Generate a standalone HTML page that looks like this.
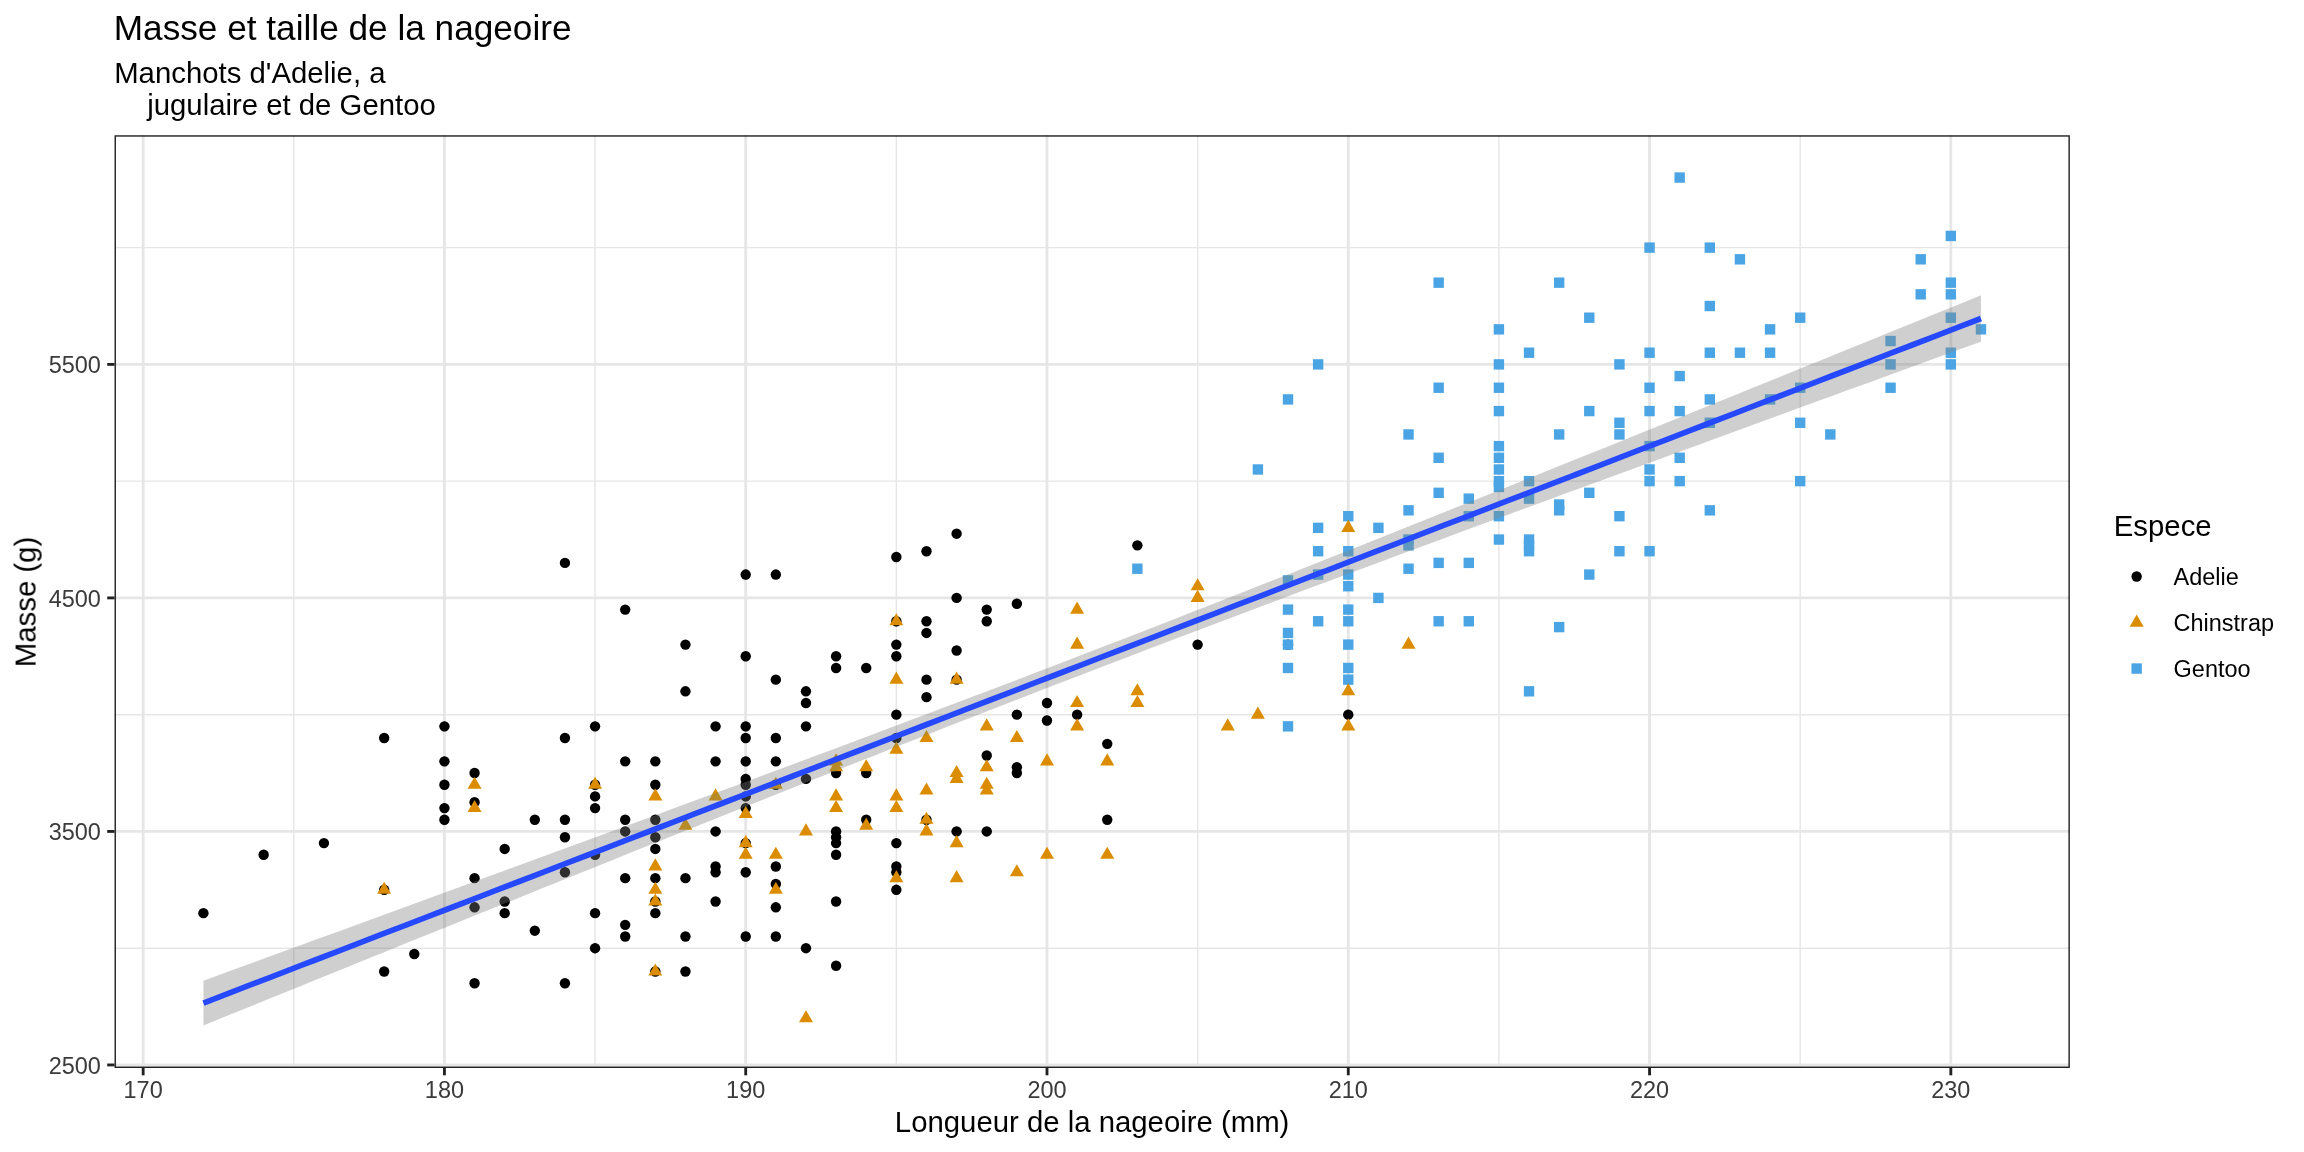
<!DOCTYPE html>
<html lang="fr"><head><meta charset="utf-8"><title>Masse et taille de la nageoire</title>
<style>html,body{margin:0;padding:0;background:#fff}body{width:2304px;height:1152px;overflow:hidden;font-family:"Liberation Sans",sans-serif}svg{display:block;will-change:transform}</style></head><body>
<svg width="2304" height="1152" viewBox="0 0 2304 1152">
<rect width="2304" height="1152" fill="#fff"/>
<defs><filter id="cs" x="0" y="0" width="2304" height="1152" filterUnits="userSpaceOnUse" color-interpolation-filters="linearRGB"><feColorMatrix type="matrix" values="0.93400 0.07680 -0.01079 0 0 -0.02344 1.04019 -0.01675 0 0 -0.00095 -0.03209 1.03304 0 0 0 0 0 1 0"/><feComponentTransfer><feFuncR type="table" tableValues="0.00000 0.00242 0.00358 0.00465 0.00570 0.00674 0.00779 0.00884 0.00990 0.01097 0.01204 0.01312 0.01421 0.01531 0.01642 0.01754 0.01866 0.01979 0.02094 0.02209 0.02324 0.02441 0.02558 0.02677 0.02796 0.02915 0.03036 0.03157 0.03279 0.03402 0.03525 0.03649 0.03774 0.03899 0.04026 0.04152 0.04280 0.04408 0.04537 0.04666 0.04796 0.04927 0.05058 0.05190 0.05322 0.05455 0.05589 0.05723 0.05858 0.05993 0.06129 0.06266 0.06403 0.06540 0.06678 0.06817 0.06956 0.07096 0.07236 0.07377 0.07518 0.07660 0.07802 0.07944 0.08088 0.08231 0.08376 0.08520 0.08665 0.08811 0.08957 0.09104 0.09251 0.09398 0.09546 0.09694 0.09843 0.09992 0.10142 0.10292 0.10443 0.10594 0.10745 0.10897 0.11049 0.11202 0.11355 0.11509 0.11663 0.11817 0.11972 0.12127 0.12282 0.12438 0.12595 0.12752 0.12909 0.13066 0.13224 0.13382 0.13541 0.13700 0.13860 0.14020 0.14180 0.14340 0.14501 0.14663 0.14824 0.14986 0.15149 0.15312 0.15475 0.15638 0.15802 0.15966 0.16131 0.16296 0.16461 0.16627 0.16793 0.16959 0.17126 0.17293 0.17460 0.17628 0.17796 0.17964 0.18133 0.18302 0.18471 0.18641 0.18810 0.18981 0.19151 0.19322 0.19494 0.19665 0.19837 0.20009 0.20182 0.20355 0.20528 0.20701 0.20875 0.21049 0.21224 0.21398 0.21573 0.21749 0.21924 0.22100 0.22276 0.22453 0.22630 0.22807 0.22984 0.23162 0.23340 0.23518 0.23697 0.23876 0.24055 0.24234 0.24414 0.24594 0.24774 0.24955 0.25136 0.25317 0.25498 0.25680 0.25862 0.26044 0.26227 0.26409 0.26593 0.26776 0.26959 0.27143 0.27328 0.27512 0.27697 0.27882 0.28067 0.28252 0.28438 0.28624 0.28811 0.28997 0.29184 0.29371 0.29558 0.29746 0.29934 0.30122 0.30310 0.30499 0.30688 0.30877 0.31067 0.31256 0.31446 0.31636 0.31827 0.32017 0.32208 0.32399 0.32591 0.32783 0.32974 0.33167 0.33359 0.33552 0.33745 0.33938 0.34131 0.34325 0.34519 0.34713 0.34907 0.35102 0.35296 0.35491 0.35687 0.35882 0.36078 0.36274 0.36470 0.36667 0.36863 0.37060 0.37258 0.37455 0.37653 0.37850 0.38048 0.38247 0.38445 0.38644 0.38843 0.39042 0.39242 0.39441 0.39641 0.39841 0.40042 0.40242 0.40443 0.40644 0.40845 0.41047 0.41249 0.41451 0.41653 0.41855 0.42058 0.42260 0.42463 0.42667 0.42870 0.43074 0.43277 0.43482 0.43686 0.43890 0.44095 0.44300 0.44505 0.44710 0.44916 0.45122 0.45328 0.45534 0.45740 0.45947 0.46154 0.46361 0.46568 0.46775 0.46983 0.47191 0.47399 0.47607 0.47816 0.48024 0.48233 0.48442 0.48652 0.48861 0.49071 0.49281 0.49491 0.49701 0.49912 0.50122 0.50333 0.50544 0.50756 0.50967 0.51179 0.51391 0.51603 0.51815 0.52027 0.52240 0.52453 0.52666 0.52879 0.53093 0.53306 0.53520 0.53734 0.53949 0.54163 0.54378 0.54592 0.54807 0.55022 0.55238 0.55453 0.55669 0.55885 0.56101 0.56318 0.56534 0.56751 0.56968 0.57185 0.57402 0.57619 0.57837 0.58055 0.58273 0.58491 0.58709 0.58928 0.59147 0.59366 0.59585 0.59804 0.60023 0.60243 0.60463 0.60683 0.60903 0.61124 0.61344 0.61565 0.61786 0.62007 0.62228 0.62450 0.62671 0.62893 0.63115 0.63337 0.63560 0.63782 0.64005 0.64228 0.64451 0.64674 0.64897 0.65121 0.65345 0.65569 0.65793 0.66017 0.66241 0.66466 0.66691 0.66916 0.67141 0.67366 0.67592 0.67817 0.68043 0.68269 0.68495 0.68722 0.68948 0.69175 0.69402 0.69629 0.69856 0.70083 0.70311 0.70539 0.70767 0.70995 0.71223 0.71451 0.71680 0.71908 0.72137 0.72366 0.72596 0.72825 0.73054 0.73284 0.73514 0.73744 0.73974 0.74205 0.74435 0.74666 0.74897 0.75128 0.75359 0.75590 0.75822 0.76053 0.76285 0.76517 0.76749 0.76982 0.77214 0.77447 0.77680 0.77913 0.78146 0.78379 0.78612 0.78846 0.79080 0.79314 0.79548 0.79782 0.80016 0.80251 0.80486 0.80720 0.80955 0.81191 0.81426 0.81661 0.81897 0.82133 0.82369 0.82605 0.82841 0.83078 0.83314 0.83551 0.83788 0.84025 0.84262 0.84499 0.84737 0.84974 0.85212 0.85450 0.85688 0.85927 0.86165 0.86404 0.86642 0.86881 0.87120 0.87359 0.87599 0.87838 0.88078 0.88318 0.88558 0.88798 0.89038 0.89278 0.89519 0.89759 0.90000 0.90241 0.90482 0.90724 0.90965 0.91207 0.91448 0.91690 0.91932 0.92174 0.92417 0.92659 0.92902 0.93144 0.93387 0.93630 0.93874 0.94117 0.94360 0.94604 0.94848 0.95092 0.95336 0.95580 0.95824 0.96069 0.96313 0.96558 0.96803 0.97048 0.97293 0.97539 0.97784 0.98030 0.98276 0.98522 0.98768 0.99014 0.99260 0.99507 0.99753 1.00000"/><feFuncG type="table" tableValues="0.00000 0.00242 0.00358 0.00465 0.00570 0.00674 0.00779 0.00884 0.00990 0.01097 0.01204 0.01312 0.01421 0.01531 0.01642 0.01754 0.01866 0.01979 0.02094 0.02209 0.02324 0.02441 0.02558 0.02677 0.02796 0.02915 0.03036 0.03157 0.03279 0.03402 0.03525 0.03649 0.03774 0.03899 0.04026 0.04152 0.04280 0.04408 0.04537 0.04666 0.04796 0.04927 0.05058 0.05190 0.05322 0.05455 0.05589 0.05723 0.05858 0.05993 0.06129 0.06266 0.06403 0.06540 0.06678 0.06817 0.06956 0.07096 0.07236 0.07377 0.07518 0.07660 0.07802 0.07944 0.08088 0.08231 0.08376 0.08520 0.08665 0.08811 0.08957 0.09104 0.09251 0.09398 0.09546 0.09694 0.09843 0.09992 0.10142 0.10292 0.10443 0.10594 0.10745 0.10897 0.11049 0.11202 0.11355 0.11509 0.11663 0.11817 0.11972 0.12127 0.12282 0.12438 0.12595 0.12752 0.12909 0.13066 0.13224 0.13382 0.13541 0.13700 0.13860 0.14020 0.14180 0.14340 0.14501 0.14663 0.14824 0.14986 0.15149 0.15312 0.15475 0.15638 0.15802 0.15966 0.16131 0.16296 0.16461 0.16627 0.16793 0.16959 0.17126 0.17293 0.17460 0.17628 0.17796 0.17964 0.18133 0.18302 0.18471 0.18641 0.18810 0.18981 0.19151 0.19322 0.19494 0.19665 0.19837 0.20009 0.20182 0.20355 0.20528 0.20701 0.20875 0.21049 0.21224 0.21398 0.21573 0.21749 0.21924 0.22100 0.22276 0.22453 0.22630 0.22807 0.22984 0.23162 0.23340 0.23518 0.23697 0.23876 0.24055 0.24234 0.24414 0.24594 0.24774 0.24955 0.25136 0.25317 0.25498 0.25680 0.25862 0.26044 0.26227 0.26409 0.26593 0.26776 0.26959 0.27143 0.27328 0.27512 0.27697 0.27882 0.28067 0.28252 0.28438 0.28624 0.28811 0.28997 0.29184 0.29371 0.29558 0.29746 0.29934 0.30122 0.30310 0.30499 0.30688 0.30877 0.31067 0.31256 0.31446 0.31636 0.31827 0.32017 0.32208 0.32399 0.32591 0.32783 0.32974 0.33167 0.33359 0.33552 0.33745 0.33938 0.34131 0.34325 0.34519 0.34713 0.34907 0.35102 0.35296 0.35491 0.35687 0.35882 0.36078 0.36274 0.36470 0.36667 0.36863 0.37060 0.37258 0.37455 0.37653 0.37850 0.38048 0.38247 0.38445 0.38644 0.38843 0.39042 0.39242 0.39441 0.39641 0.39841 0.40042 0.40242 0.40443 0.40644 0.40845 0.41047 0.41249 0.41451 0.41653 0.41855 0.42058 0.42260 0.42463 0.42667 0.42870 0.43074 0.43277 0.43482 0.43686 0.43890 0.44095 0.44300 0.44505 0.44710 0.44916 0.45122 0.45328 0.45534 0.45740 0.45947 0.46154 0.46361 0.46568 0.46775 0.46983 0.47191 0.47399 0.47607 0.47816 0.48024 0.48233 0.48442 0.48652 0.48861 0.49071 0.49281 0.49491 0.49701 0.49912 0.50122 0.50333 0.50544 0.50756 0.50967 0.51179 0.51391 0.51603 0.51815 0.52027 0.52240 0.52453 0.52666 0.52879 0.53093 0.53306 0.53520 0.53734 0.53949 0.54163 0.54378 0.54592 0.54807 0.55022 0.55238 0.55453 0.55669 0.55885 0.56101 0.56318 0.56534 0.56751 0.56968 0.57185 0.57402 0.57619 0.57837 0.58055 0.58273 0.58491 0.58709 0.58928 0.59147 0.59366 0.59585 0.59804 0.60023 0.60243 0.60463 0.60683 0.60903 0.61124 0.61344 0.61565 0.61786 0.62007 0.62228 0.62450 0.62671 0.62893 0.63115 0.63337 0.63560 0.63782 0.64005 0.64228 0.64451 0.64674 0.64897 0.65121 0.65345 0.65569 0.65793 0.66017 0.66241 0.66466 0.66691 0.66916 0.67141 0.67366 0.67592 0.67817 0.68043 0.68269 0.68495 0.68722 0.68948 0.69175 0.69402 0.69629 0.69856 0.70083 0.70311 0.70539 0.70767 0.70995 0.71223 0.71451 0.71680 0.71908 0.72137 0.72366 0.72596 0.72825 0.73054 0.73284 0.73514 0.73744 0.73974 0.74205 0.74435 0.74666 0.74897 0.75128 0.75359 0.75590 0.75822 0.76053 0.76285 0.76517 0.76749 0.76982 0.77214 0.77447 0.77680 0.77913 0.78146 0.78379 0.78612 0.78846 0.79080 0.79314 0.79548 0.79782 0.80016 0.80251 0.80486 0.80720 0.80955 0.81191 0.81426 0.81661 0.81897 0.82133 0.82369 0.82605 0.82841 0.83078 0.83314 0.83551 0.83788 0.84025 0.84262 0.84499 0.84737 0.84974 0.85212 0.85450 0.85688 0.85927 0.86165 0.86404 0.86642 0.86881 0.87120 0.87359 0.87599 0.87838 0.88078 0.88318 0.88558 0.88798 0.89038 0.89278 0.89519 0.89759 0.90000 0.90241 0.90482 0.90724 0.90965 0.91207 0.91448 0.91690 0.91932 0.92174 0.92417 0.92659 0.92902 0.93144 0.93387 0.93630 0.93874 0.94117 0.94360 0.94604 0.94848 0.95092 0.95336 0.95580 0.95824 0.96069 0.96313 0.96558 0.96803 0.97048 0.97293 0.97539 0.97784 0.98030 0.98276 0.98522 0.98768 0.99014 0.99260 0.99507 0.99753 1.00000"/><feFuncB type="table" tableValues="0.00000 0.00242 0.00358 0.00465 0.00570 0.00674 0.00779 0.00884 0.00990 0.01097 0.01204 0.01312 0.01421 0.01531 0.01642 0.01754 0.01866 0.01979 0.02094 0.02209 0.02324 0.02441 0.02558 0.02677 0.02796 0.02915 0.03036 0.03157 0.03279 0.03402 0.03525 0.03649 0.03774 0.03899 0.04026 0.04152 0.04280 0.04408 0.04537 0.04666 0.04796 0.04927 0.05058 0.05190 0.05322 0.05455 0.05589 0.05723 0.05858 0.05993 0.06129 0.06266 0.06403 0.06540 0.06678 0.06817 0.06956 0.07096 0.07236 0.07377 0.07518 0.07660 0.07802 0.07944 0.08088 0.08231 0.08376 0.08520 0.08665 0.08811 0.08957 0.09104 0.09251 0.09398 0.09546 0.09694 0.09843 0.09992 0.10142 0.10292 0.10443 0.10594 0.10745 0.10897 0.11049 0.11202 0.11355 0.11509 0.11663 0.11817 0.11972 0.12127 0.12282 0.12438 0.12595 0.12752 0.12909 0.13066 0.13224 0.13382 0.13541 0.13700 0.13860 0.14020 0.14180 0.14340 0.14501 0.14663 0.14824 0.14986 0.15149 0.15312 0.15475 0.15638 0.15802 0.15966 0.16131 0.16296 0.16461 0.16627 0.16793 0.16959 0.17126 0.17293 0.17460 0.17628 0.17796 0.17964 0.18133 0.18302 0.18471 0.18641 0.18810 0.18981 0.19151 0.19322 0.19494 0.19665 0.19837 0.20009 0.20182 0.20355 0.20528 0.20701 0.20875 0.21049 0.21224 0.21398 0.21573 0.21749 0.21924 0.22100 0.22276 0.22453 0.22630 0.22807 0.22984 0.23162 0.23340 0.23518 0.23697 0.23876 0.24055 0.24234 0.24414 0.24594 0.24774 0.24955 0.25136 0.25317 0.25498 0.25680 0.25862 0.26044 0.26227 0.26409 0.26593 0.26776 0.26959 0.27143 0.27328 0.27512 0.27697 0.27882 0.28067 0.28252 0.28438 0.28624 0.28811 0.28997 0.29184 0.29371 0.29558 0.29746 0.29934 0.30122 0.30310 0.30499 0.30688 0.30877 0.31067 0.31256 0.31446 0.31636 0.31827 0.32017 0.32208 0.32399 0.32591 0.32783 0.32974 0.33167 0.33359 0.33552 0.33745 0.33938 0.34131 0.34325 0.34519 0.34713 0.34907 0.35102 0.35296 0.35491 0.35687 0.35882 0.36078 0.36274 0.36470 0.36667 0.36863 0.37060 0.37258 0.37455 0.37653 0.37850 0.38048 0.38247 0.38445 0.38644 0.38843 0.39042 0.39242 0.39441 0.39641 0.39841 0.40042 0.40242 0.40443 0.40644 0.40845 0.41047 0.41249 0.41451 0.41653 0.41855 0.42058 0.42260 0.42463 0.42667 0.42870 0.43074 0.43277 0.43482 0.43686 0.43890 0.44095 0.44300 0.44505 0.44710 0.44916 0.45122 0.45328 0.45534 0.45740 0.45947 0.46154 0.46361 0.46568 0.46775 0.46983 0.47191 0.47399 0.47607 0.47816 0.48024 0.48233 0.48442 0.48652 0.48861 0.49071 0.49281 0.49491 0.49701 0.49912 0.50122 0.50333 0.50544 0.50756 0.50967 0.51179 0.51391 0.51603 0.51815 0.52027 0.52240 0.52453 0.52666 0.52879 0.53093 0.53306 0.53520 0.53734 0.53949 0.54163 0.54378 0.54592 0.54807 0.55022 0.55238 0.55453 0.55669 0.55885 0.56101 0.56318 0.56534 0.56751 0.56968 0.57185 0.57402 0.57619 0.57837 0.58055 0.58273 0.58491 0.58709 0.58928 0.59147 0.59366 0.59585 0.59804 0.60023 0.60243 0.60463 0.60683 0.60903 0.61124 0.61344 0.61565 0.61786 0.62007 0.62228 0.62450 0.62671 0.62893 0.63115 0.63337 0.63560 0.63782 0.64005 0.64228 0.64451 0.64674 0.64897 0.65121 0.65345 0.65569 0.65793 0.66017 0.66241 0.66466 0.66691 0.66916 0.67141 0.67366 0.67592 0.67817 0.68043 0.68269 0.68495 0.68722 0.68948 0.69175 0.69402 0.69629 0.69856 0.70083 0.70311 0.70539 0.70767 0.70995 0.71223 0.71451 0.71680 0.71908 0.72137 0.72366 0.72596 0.72825 0.73054 0.73284 0.73514 0.73744 0.73974 0.74205 0.74435 0.74666 0.74897 0.75128 0.75359 0.75590 0.75822 0.76053 0.76285 0.76517 0.76749 0.76982 0.77214 0.77447 0.77680 0.77913 0.78146 0.78379 0.78612 0.78846 0.79080 0.79314 0.79548 0.79782 0.80016 0.80251 0.80486 0.80720 0.80955 0.81191 0.81426 0.81661 0.81897 0.82133 0.82369 0.82605 0.82841 0.83078 0.83314 0.83551 0.83788 0.84025 0.84262 0.84499 0.84737 0.84974 0.85212 0.85450 0.85688 0.85927 0.86165 0.86404 0.86642 0.86881 0.87120 0.87359 0.87599 0.87838 0.88078 0.88318 0.88558 0.88798 0.89038 0.89278 0.89519 0.89759 0.90000 0.90241 0.90482 0.90724 0.90965 0.91207 0.91448 0.91690 0.91932 0.92174 0.92417 0.92659 0.92902 0.93144 0.93387 0.93630 0.93874 0.94117 0.94360 0.94604 0.94848 0.95092 0.95336 0.95580 0.95824 0.96069 0.96313 0.96558 0.96803 0.97048 0.97293 0.97539 0.97784 0.98030 0.98276 0.98522 0.98768 0.99014 0.99260 0.99507 0.99753 1.00000"/></feComponentTransfer></filter></defs>
<g filter="url(#cs)">
<defs><clipPath id="pc"><rect x="114.53" y="135.25" width="1955.32" height="932.75"/></clipPath></defs>
<g clip-path="url(#pc)">
<line x1="293.79" x2="293.79" y1="135.25" y2="1068.0" stroke="#EBEBEB" stroke-width="1.42"/>
<line x1="595.07" x2="595.07" y1="135.25" y2="1068.0" stroke="#EBEBEB" stroke-width="1.42"/>
<line x1="896.35" x2="896.35" y1="135.25" y2="1068.0" stroke="#EBEBEB" stroke-width="1.42"/>
<line x1="1197.63" x2="1197.63" y1="135.25" y2="1068.0" stroke="#EBEBEB" stroke-width="1.42"/>
<line x1="1498.91" x2="1498.91" y1="135.25" y2="1068.0" stroke="#EBEBEB" stroke-width="1.42"/>
<line x1="1800.19" x2="1800.19" y1="135.25" y2="1068.0" stroke="#EBEBEB" stroke-width="1.42"/>
<line y1="948.19" y2="948.19" x1="114.53" x2="2069.85" stroke="#EBEBEB" stroke-width="1.42"/>
<line y1="714.67" y2="714.67" x1="114.53" x2="2069.85" stroke="#EBEBEB" stroke-width="1.42"/>
<line y1="481.15" y2="481.15" x1="114.53" x2="2069.85" stroke="#EBEBEB" stroke-width="1.42"/>
<line y1="247.63" y2="247.63" x1="114.53" x2="2069.85" stroke="#EBEBEB" stroke-width="1.42"/>
<line x1="143.15" x2="143.15" y1="135.25" y2="1068.0" stroke="#EBEBEB" stroke-width="2.85"/>
<line x1="444.43" x2="444.43" y1="135.25" y2="1068.0" stroke="#EBEBEB" stroke-width="2.85"/>
<line x1="745.71" x2="745.71" y1="135.25" y2="1068.0" stroke="#EBEBEB" stroke-width="2.85"/>
<line x1="1046.99" x2="1046.99" y1="135.25" y2="1068.0" stroke="#EBEBEB" stroke-width="2.85"/>
<line x1="1348.27" x2="1348.27" y1="135.25" y2="1068.0" stroke="#EBEBEB" stroke-width="2.85"/>
<line x1="1649.55" x2="1649.55" y1="135.25" y2="1068.0" stroke="#EBEBEB" stroke-width="2.85"/>
<line x1="1950.83" x2="1950.83" y1="135.25" y2="1068.0" stroke="#EBEBEB" stroke-width="2.85"/>
<line y1="1064.95" y2="1064.95" x1="114.53" x2="2069.85" stroke="#EBEBEB" stroke-width="2.85"/>
<line y1="831.43" y2="831.43" x1="114.53" x2="2069.85" stroke="#EBEBEB" stroke-width="2.85"/>
<line y1="597.91" y2="597.91" x1="114.53" x2="2069.85" stroke="#EBEBEB" stroke-width="2.85"/>
<line y1="364.39" y2="364.39" x1="114.53" x2="2069.85" stroke="#EBEBEB" stroke-width="2.85"/>
<g>
<circle cx="203.41" cy="913.16" r="5.2" fill="#000000"/>
<circle cx="263.66" cy="854.78" r="5.2" fill="#000000"/>
<circle cx="323.92" cy="843.11" r="5.2" fill="#000000"/>
<circle cx="384.17" cy="889.81" r="5.2" fill="#000000"/>
<circle cx="384.17" cy="971.54" r="5.2" fill="#000000"/>
<circle cx="384.17" cy="738.02" r="5.2" fill="#000000"/>
<circle cx="414.30" cy="954.03" r="5.2" fill="#000000"/>
<circle cx="444.43" cy="726.35" r="5.2" fill="#000000"/>
<circle cx="444.43" cy="761.37" r="5.2" fill="#000000"/>
<circle cx="444.43" cy="784.73" r="5.2" fill="#000000"/>
<circle cx="444.43" cy="808.08" r="5.2" fill="#000000"/>
<circle cx="444.43" cy="819.75" r="5.2" fill="#000000"/>
<circle cx="474.56" cy="773.05" r="5.2" fill="#000000"/>
<circle cx="474.56" cy="802.24" r="5.2" fill="#000000"/>
<circle cx="474.56" cy="878.13" r="5.2" fill="#000000"/>
<circle cx="474.56" cy="907.32" r="5.2" fill="#000000"/>
<circle cx="474.56" cy="983.22" r="5.2" fill="#000000"/>
<circle cx="504.69" cy="848.94" r="5.2" fill="#000000"/>
<circle cx="504.69" cy="901.49" r="5.2" fill="#000000"/>
<circle cx="504.69" cy="913.16" r="5.2" fill="#000000"/>
<circle cx="534.81" cy="819.75" r="5.2" fill="#000000"/>
<circle cx="534.81" cy="930.68" r="5.2" fill="#000000"/>
<circle cx="564.94" cy="562.88" r="5.2" fill="#000000"/>
<circle cx="564.94" cy="738.02" r="5.2" fill="#000000"/>
<circle cx="564.94" cy="819.75" r="5.2" fill="#000000"/>
<circle cx="564.94" cy="837.27" r="5.2" fill="#000000"/>
<circle cx="564.94" cy="872.30" r="5.2" fill="#000000"/>
<circle cx="564.94" cy="983.22" r="5.2" fill="#000000"/>
<circle cx="595.07" cy="726.35" r="5.2" fill="#000000"/>
<circle cx="595.07" cy="784.73" r="5.2" fill="#000000"/>
<circle cx="595.07" cy="796.40" r="5.2" fill="#000000"/>
<circle cx="595.07" cy="808.08" r="5.2" fill="#000000"/>
<circle cx="595.07" cy="854.78" r="5.2" fill="#000000"/>
<circle cx="595.07" cy="913.16" r="5.2" fill="#000000"/>
<circle cx="595.07" cy="948.19" r="5.2" fill="#000000"/>
<circle cx="625.20" cy="609.59" r="5.2" fill="#000000"/>
<circle cx="625.20" cy="761.37" r="5.2" fill="#000000"/>
<circle cx="625.20" cy="819.75" r="5.2" fill="#000000"/>
<circle cx="625.20" cy="831.43" r="5.2" fill="#000000"/>
<circle cx="625.20" cy="878.13" r="5.2" fill="#000000"/>
<circle cx="625.20" cy="924.84" r="5.2" fill="#000000"/>
<circle cx="625.20" cy="936.51" r="5.2" fill="#000000"/>
<circle cx="655.33" cy="761.37" r="5.2" fill="#000000"/>
<circle cx="655.33" cy="784.73" r="5.2" fill="#000000"/>
<circle cx="655.33" cy="819.75" r="5.2" fill="#000000"/>
<circle cx="655.33" cy="837.27" r="5.2" fill="#000000"/>
<circle cx="655.33" cy="848.94" r="5.2" fill="#000000"/>
<circle cx="655.33" cy="878.13" r="5.2" fill="#000000"/>
<circle cx="655.33" cy="901.49" r="5.2" fill="#000000"/>
<circle cx="655.33" cy="913.16" r="5.2" fill="#000000"/>
<circle cx="655.33" cy="971.54" r="5.2" fill="#000000"/>
<circle cx="685.45" cy="644.61" r="5.2" fill="#000000"/>
<circle cx="685.45" cy="691.32" r="5.2" fill="#000000"/>
<circle cx="685.45" cy="878.13" r="5.2" fill="#000000"/>
<circle cx="685.45" cy="936.51" r="5.2" fill="#000000"/>
<circle cx="685.45" cy="971.54" r="5.2" fill="#000000"/>
<circle cx="715.58" cy="726.35" r="5.2" fill="#000000"/>
<circle cx="715.58" cy="761.37" r="5.2" fill="#000000"/>
<circle cx="715.58" cy="831.43" r="5.2" fill="#000000"/>
<circle cx="715.58" cy="866.46" r="5.2" fill="#000000"/>
<circle cx="715.58" cy="872.30" r="5.2" fill="#000000"/>
<circle cx="715.58" cy="901.49" r="5.2" fill="#000000"/>
<circle cx="745.71" cy="574.56" r="5.2" fill="#000000"/>
<circle cx="745.71" cy="656.29" r="5.2" fill="#000000"/>
<circle cx="745.71" cy="726.35" r="5.2" fill="#000000"/>
<circle cx="745.71" cy="738.02" r="5.2" fill="#000000"/>
<circle cx="745.71" cy="761.37" r="5.2" fill="#000000"/>
<circle cx="745.71" cy="778.89" r="5.2" fill="#000000"/>
<circle cx="745.71" cy="784.73" r="5.2" fill="#000000"/>
<circle cx="745.71" cy="796.40" r="5.2" fill="#000000"/>
<circle cx="745.71" cy="808.08" r="5.2" fill="#000000"/>
<circle cx="745.71" cy="843.11" r="5.2" fill="#000000"/>
<circle cx="745.71" cy="872.30" r="5.2" fill="#000000"/>
<circle cx="745.71" cy="936.51" r="5.2" fill="#000000"/>
<circle cx="775.84" cy="574.56" r="5.2" fill="#000000"/>
<circle cx="775.84" cy="679.64" r="5.2" fill="#000000"/>
<circle cx="775.84" cy="738.02" r="5.2" fill="#000000"/>
<circle cx="775.84" cy="761.37" r="5.2" fill="#000000"/>
<circle cx="775.84" cy="784.73" r="5.2" fill="#000000"/>
<circle cx="775.84" cy="866.46" r="5.2" fill="#000000"/>
<circle cx="775.84" cy="883.97" r="5.2" fill="#000000"/>
<circle cx="775.84" cy="907.32" r="5.2" fill="#000000"/>
<circle cx="775.84" cy="936.51" r="5.2" fill="#000000"/>
<circle cx="805.97" cy="691.32" r="5.2" fill="#000000"/>
<circle cx="805.97" cy="702.99" r="5.2" fill="#000000"/>
<circle cx="805.97" cy="726.35" r="5.2" fill="#000000"/>
<circle cx="805.97" cy="778.89" r="5.2" fill="#000000"/>
<circle cx="805.97" cy="948.19" r="5.2" fill="#000000"/>
<circle cx="836.09" cy="656.29" r="5.2" fill="#000000"/>
<circle cx="836.09" cy="667.97" r="5.2" fill="#000000"/>
<circle cx="836.09" cy="773.05" r="5.2" fill="#000000"/>
<circle cx="836.09" cy="831.43" r="5.2" fill="#000000"/>
<circle cx="836.09" cy="837.27" r="5.2" fill="#000000"/>
<circle cx="836.09" cy="843.11" r="5.2" fill="#000000"/>
<circle cx="836.09" cy="854.78" r="5.2" fill="#000000"/>
<circle cx="836.09" cy="901.49" r="5.2" fill="#000000"/>
<circle cx="836.09" cy="965.70" r="5.2" fill="#000000"/>
<circle cx="866.22" cy="667.97" r="5.2" fill="#000000"/>
<circle cx="866.22" cy="773.05" r="5.2" fill="#000000"/>
<circle cx="866.22" cy="819.75" r="5.2" fill="#000000"/>
<circle cx="896.35" cy="557.04" r="5.2" fill="#000000"/>
<circle cx="896.35" cy="621.26" r="5.2" fill="#000000"/>
<circle cx="896.35" cy="644.61" r="5.2" fill="#000000"/>
<circle cx="896.35" cy="656.29" r="5.2" fill="#000000"/>
<circle cx="896.35" cy="714.67" r="5.2" fill="#000000"/>
<circle cx="896.35" cy="738.02" r="5.2" fill="#000000"/>
<circle cx="896.35" cy="843.11" r="5.2" fill="#000000"/>
<circle cx="896.35" cy="866.46" r="5.2" fill="#000000"/>
<circle cx="896.35" cy="872.30" r="5.2" fill="#000000"/>
<circle cx="896.35" cy="889.81" r="5.2" fill="#000000"/>
<circle cx="926.48" cy="551.21" r="5.2" fill="#000000"/>
<circle cx="926.48" cy="621.26" r="5.2" fill="#000000"/>
<circle cx="926.48" cy="632.94" r="5.2" fill="#000000"/>
<circle cx="926.48" cy="679.64" r="5.2" fill="#000000"/>
<circle cx="926.48" cy="697.16" r="5.2" fill="#000000"/>
<circle cx="926.48" cy="819.75" r="5.2" fill="#000000"/>
<circle cx="956.61" cy="533.69" r="5.2" fill="#000000"/>
<circle cx="956.61" cy="597.91" r="5.2" fill="#000000"/>
<circle cx="956.61" cy="650.45" r="5.2" fill="#000000"/>
<circle cx="956.61" cy="679.64" r="5.2" fill="#000000"/>
<circle cx="956.61" cy="831.43" r="5.2" fill="#000000"/>
<circle cx="986.73" cy="609.59" r="5.2" fill="#000000"/>
<circle cx="986.73" cy="621.26" r="5.2" fill="#000000"/>
<circle cx="986.73" cy="755.54" r="5.2" fill="#000000"/>
<circle cx="986.73" cy="831.43" r="5.2" fill="#000000"/>
<circle cx="1016.86" cy="603.75" r="5.2" fill="#000000"/>
<circle cx="1016.86" cy="714.67" r="5.2" fill="#000000"/>
<circle cx="1016.86" cy="767.21" r="5.2" fill="#000000"/>
<circle cx="1016.86" cy="773.05" r="5.2" fill="#000000"/>
<circle cx="1046.99" cy="702.99" r="5.2" fill="#000000"/>
<circle cx="1046.99" cy="720.51" r="5.2" fill="#000000"/>
<circle cx="1077.12" cy="714.67" r="5.2" fill="#000000"/>
<circle cx="1107.25" cy="743.86" r="5.2" fill="#000000"/>
<circle cx="1107.25" cy="819.75" r="5.2" fill="#000000"/>
<circle cx="1137.37" cy="545.37" r="5.2" fill="#000000"/>
<circle cx="1197.63" cy="644.61" r="5.2" fill="#000000"/>
<circle cx="1288.01" cy="644.61" r="5.2" fill="#000000"/>
<circle cx="1348.27" cy="714.67" r="5.2" fill="#000000"/>
<rect x="1132.17" y="563.52" width="10.4" height="10.4" fill="#56B4E9"/>
<rect x="1252.69" y="464.27" width="10.4" height="10.4" fill="#56B4E9"/>
<rect x="1282.81" y="394.22" width="10.4" height="10.4" fill="#56B4E9"/>
<rect x="1282.81" y="575.20" width="10.4" height="10.4" fill="#56B4E9"/>
<rect x="1282.81" y="604.39" width="10.4" height="10.4" fill="#56B4E9"/>
<rect x="1282.81" y="627.74" width="10.4" height="10.4" fill="#56B4E9"/>
<rect x="1282.81" y="639.41" width="10.4" height="10.4" fill="#56B4E9"/>
<rect x="1282.81" y="662.77" width="10.4" height="10.4" fill="#56B4E9"/>
<rect x="1282.81" y="721.15" width="10.4" height="10.4" fill="#56B4E9"/>
<rect x="1312.94" y="359.19" width="10.4" height="10.4" fill="#56B4E9"/>
<rect x="1312.94" y="522.65" width="10.4" height="10.4" fill="#56B4E9"/>
<rect x="1312.94" y="546.01" width="10.4" height="10.4" fill="#56B4E9"/>
<rect x="1312.94" y="569.36" width="10.4" height="10.4" fill="#56B4E9"/>
<rect x="1312.94" y="616.06" width="10.4" height="10.4" fill="#56B4E9"/>
<rect x="1343.07" y="510.98" width="10.4" height="10.4" fill="#56B4E9"/>
<rect x="1343.07" y="546.01" width="10.4" height="10.4" fill="#56B4E9"/>
<rect x="1343.07" y="569.36" width="10.4" height="10.4" fill="#56B4E9"/>
<rect x="1343.07" y="581.03" width="10.4" height="10.4" fill="#56B4E9"/>
<rect x="1343.07" y="604.39" width="10.4" height="10.4" fill="#56B4E9"/>
<rect x="1343.07" y="616.06" width="10.4" height="10.4" fill="#56B4E9"/>
<rect x="1343.07" y="639.41" width="10.4" height="10.4" fill="#56B4E9"/>
<rect x="1343.07" y="662.77" width="10.4" height="10.4" fill="#56B4E9"/>
<rect x="1343.07" y="674.44" width="10.4" height="10.4" fill="#56B4E9"/>
<rect x="1373.20" y="522.65" width="10.4" height="10.4" fill="#56B4E9"/>
<rect x="1373.20" y="592.71" width="10.4" height="10.4" fill="#56B4E9"/>
<rect x="1403.33" y="429.25" width="10.4" height="10.4" fill="#56B4E9"/>
<rect x="1403.33" y="505.14" width="10.4" height="10.4" fill="#56B4E9"/>
<rect x="1403.33" y="534.33" width="10.4" height="10.4" fill="#56B4E9"/>
<rect x="1403.33" y="540.17" width="10.4" height="10.4" fill="#56B4E9"/>
<rect x="1403.33" y="563.52" width="10.4" height="10.4" fill="#56B4E9"/>
<rect x="1433.45" y="277.46" width="10.4" height="10.4" fill="#56B4E9"/>
<rect x="1433.45" y="382.54" width="10.4" height="10.4" fill="#56B4E9"/>
<rect x="1433.45" y="452.60" width="10.4" height="10.4" fill="#56B4E9"/>
<rect x="1433.45" y="487.63" width="10.4" height="10.4" fill="#56B4E9"/>
<rect x="1433.45" y="557.68" width="10.4" height="10.4" fill="#56B4E9"/>
<rect x="1433.45" y="616.06" width="10.4" height="10.4" fill="#56B4E9"/>
<rect x="1463.58" y="493.46" width="10.4" height="10.4" fill="#56B4E9"/>
<rect x="1463.58" y="510.98" width="10.4" height="10.4" fill="#56B4E9"/>
<rect x="1463.58" y="557.68" width="10.4" height="10.4" fill="#56B4E9"/>
<rect x="1463.58" y="616.06" width="10.4" height="10.4" fill="#56B4E9"/>
<rect x="1493.71" y="324.16" width="10.4" height="10.4" fill="#56B4E9"/>
<rect x="1493.71" y="359.19" width="10.4" height="10.4" fill="#56B4E9"/>
<rect x="1493.71" y="382.54" width="10.4" height="10.4" fill="#56B4E9"/>
<rect x="1493.71" y="405.89" width="10.4" height="10.4" fill="#56B4E9"/>
<rect x="1493.71" y="440.92" width="10.4" height="10.4" fill="#56B4E9"/>
<rect x="1493.71" y="452.60" width="10.4" height="10.4" fill="#56B4E9"/>
<rect x="1493.71" y="464.27" width="10.4" height="10.4" fill="#56B4E9"/>
<rect x="1493.71" y="475.95" width="10.4" height="10.4" fill="#56B4E9"/>
<rect x="1493.71" y="481.79" width="10.4" height="10.4" fill="#56B4E9"/>
<rect x="1493.71" y="510.98" width="10.4" height="10.4" fill="#56B4E9"/>
<rect x="1493.71" y="534.33" width="10.4" height="10.4" fill="#56B4E9"/>
<rect x="1523.84" y="347.51" width="10.4" height="10.4" fill="#56B4E9"/>
<rect x="1523.84" y="475.95" width="10.4" height="10.4" fill="#56B4E9"/>
<rect x="1523.84" y="493.46" width="10.4" height="10.4" fill="#56B4E9"/>
<rect x="1523.84" y="534.33" width="10.4" height="10.4" fill="#56B4E9"/>
<rect x="1523.84" y="540.17" width="10.4" height="10.4" fill="#56B4E9"/>
<rect x="1523.84" y="546.01" width="10.4" height="10.4" fill="#56B4E9"/>
<rect x="1523.84" y="686.12" width="10.4" height="10.4" fill="#56B4E9"/>
<rect x="1553.97" y="277.46" width="10.4" height="10.4" fill="#56B4E9"/>
<rect x="1553.97" y="429.25" width="10.4" height="10.4" fill="#56B4E9"/>
<rect x="1553.97" y="499.30" width="10.4" height="10.4" fill="#56B4E9"/>
<rect x="1553.97" y="505.14" width="10.4" height="10.4" fill="#56B4E9"/>
<rect x="1553.97" y="621.90" width="10.4" height="10.4" fill="#56B4E9"/>
<rect x="1584.09" y="312.49" width="10.4" height="10.4" fill="#56B4E9"/>
<rect x="1584.09" y="405.89" width="10.4" height="10.4" fill="#56B4E9"/>
<rect x="1584.09" y="487.63" width="10.4" height="10.4" fill="#56B4E9"/>
<rect x="1584.09" y="569.36" width="10.4" height="10.4" fill="#56B4E9"/>
<rect x="1614.22" y="359.19" width="10.4" height="10.4" fill="#56B4E9"/>
<rect x="1614.22" y="417.57" width="10.4" height="10.4" fill="#56B4E9"/>
<rect x="1614.22" y="429.25" width="10.4" height="10.4" fill="#56B4E9"/>
<rect x="1614.22" y="510.98" width="10.4" height="10.4" fill="#56B4E9"/>
<rect x="1614.22" y="546.01" width="10.4" height="10.4" fill="#56B4E9"/>
<rect x="1644.35" y="242.43" width="10.4" height="10.4" fill="#56B4E9"/>
<rect x="1644.35" y="347.51" width="10.4" height="10.4" fill="#56B4E9"/>
<rect x="1644.35" y="382.54" width="10.4" height="10.4" fill="#56B4E9"/>
<rect x="1644.35" y="405.89" width="10.4" height="10.4" fill="#56B4E9"/>
<rect x="1644.35" y="440.92" width="10.4" height="10.4" fill="#56B4E9"/>
<rect x="1644.35" y="464.27" width="10.4" height="10.4" fill="#56B4E9"/>
<rect x="1644.35" y="475.95" width="10.4" height="10.4" fill="#56B4E9"/>
<rect x="1644.35" y="546.01" width="10.4" height="10.4" fill="#56B4E9"/>
<rect x="1674.48" y="172.37" width="10.4" height="10.4" fill="#56B4E9"/>
<rect x="1674.48" y="370.87" width="10.4" height="10.4" fill="#56B4E9"/>
<rect x="1674.48" y="405.89" width="10.4" height="10.4" fill="#56B4E9"/>
<rect x="1674.48" y="452.60" width="10.4" height="10.4" fill="#56B4E9"/>
<rect x="1674.48" y="475.95" width="10.4" height="10.4" fill="#56B4E9"/>
<rect x="1704.61" y="242.43" width="10.4" height="10.4" fill="#56B4E9"/>
<rect x="1704.61" y="300.81" width="10.4" height="10.4" fill="#56B4E9"/>
<rect x="1704.61" y="347.51" width="10.4" height="10.4" fill="#56B4E9"/>
<rect x="1704.61" y="394.22" width="10.4" height="10.4" fill="#56B4E9"/>
<rect x="1704.61" y="417.57" width="10.4" height="10.4" fill="#56B4E9"/>
<rect x="1704.61" y="505.14" width="10.4" height="10.4" fill="#56B4E9"/>
<rect x="1734.73" y="254.11" width="10.4" height="10.4" fill="#56B4E9"/>
<rect x="1734.73" y="347.51" width="10.4" height="10.4" fill="#56B4E9"/>
<rect x="1764.86" y="324.16" width="10.4" height="10.4" fill="#56B4E9"/>
<rect x="1764.86" y="347.51" width="10.4" height="10.4" fill="#56B4E9"/>
<rect x="1764.86" y="394.22" width="10.4" height="10.4" fill="#56B4E9"/>
<rect x="1794.99" y="312.49" width="10.4" height="10.4" fill="#56B4E9"/>
<rect x="1794.99" y="382.54" width="10.4" height="10.4" fill="#56B4E9"/>
<rect x="1794.99" y="417.57" width="10.4" height="10.4" fill="#56B4E9"/>
<rect x="1794.99" y="475.95" width="10.4" height="10.4" fill="#56B4E9"/>
<rect x="1825.12" y="429.25" width="10.4" height="10.4" fill="#56B4E9"/>
<rect x="1885.37" y="335.84" width="10.4" height="10.4" fill="#56B4E9"/>
<rect x="1885.37" y="359.19" width="10.4" height="10.4" fill="#56B4E9"/>
<rect x="1885.37" y="382.54" width="10.4" height="10.4" fill="#56B4E9"/>
<rect x="1915.50" y="254.11" width="10.4" height="10.4" fill="#56B4E9"/>
<rect x="1915.50" y="289.13" width="10.4" height="10.4" fill="#56B4E9"/>
<rect x="1945.63" y="230.75" width="10.4" height="10.4" fill="#56B4E9"/>
<rect x="1945.63" y="277.46" width="10.4" height="10.4" fill="#56B4E9"/>
<rect x="1945.63" y="289.13" width="10.4" height="10.4" fill="#56B4E9"/>
<rect x="1945.63" y="312.49" width="10.4" height="10.4" fill="#56B4E9"/>
<rect x="1945.63" y="347.51" width="10.4" height="10.4" fill="#56B4E9"/>
<rect x="1945.63" y="359.19" width="10.4" height="10.4" fill="#56B4E9"/>
<rect x="1975.76" y="324.16" width="10.4" height="10.4" fill="#56B4E9"/>
<path d="M384.17 881.72L391.18 893.85L377.17 893.85Z" fill="#E69F00"/>
<path d="M474.56 776.64L481.56 788.77L467.55 788.77Z" fill="#E69F00"/>
<path d="M474.56 799.99L481.56 812.12L467.55 812.12Z" fill="#E69F00"/>
<path d="M595.07 776.64L602.07 788.77L588.07 788.77Z" fill="#E69F00"/>
<path d="M655.33 788.32L662.33 800.45L648.32 800.45Z" fill="#E69F00"/>
<path d="M655.33 858.37L662.33 870.50L648.32 870.50Z" fill="#E69F00"/>
<path d="M655.33 881.72L662.33 893.85L648.32 893.85Z" fill="#E69F00"/>
<path d="M655.33 893.40L662.33 905.53L648.32 905.53Z" fill="#E69F00"/>
<path d="M655.33 963.46L662.33 975.59L648.32 975.59Z" fill="#E69F00"/>
<path d="M685.45 817.51L692.46 829.64L678.45 829.64Z" fill="#E69F00"/>
<path d="M715.58 788.32L722.59 800.45L708.58 800.45Z" fill="#E69F00"/>
<path d="M745.71 805.83L752.71 817.96L738.71 817.96Z" fill="#E69F00"/>
<path d="M745.71 835.02L752.71 847.15L738.71 847.15Z" fill="#E69F00"/>
<path d="M745.71 846.70L752.71 858.83L738.71 858.83Z" fill="#E69F00"/>
<path d="M775.84 776.64L782.84 788.77L768.83 788.77Z" fill="#E69F00"/>
<path d="M775.84 846.70L782.84 858.83L768.83 858.83Z" fill="#E69F00"/>
<path d="M775.84 881.72L782.84 893.85L768.83 893.85Z" fill="#E69F00"/>
<path d="M805.97 823.34L812.97 835.47L798.96 835.47Z" fill="#E69F00"/>
<path d="M805.97 1010.16L812.97 1022.29L798.96 1022.29Z" fill="#E69F00"/>
<path d="M836.09 753.29L843.10 765.42L829.09 765.42Z" fill="#E69F00"/>
<path d="M836.09 759.13L843.10 771.26L829.09 771.26Z" fill="#E69F00"/>
<path d="M836.09 788.32L843.10 800.45L829.09 800.45Z" fill="#E69F00"/>
<path d="M836.09 799.99L843.10 812.12L829.09 812.12Z" fill="#E69F00"/>
<path d="M866.22 759.13L873.23 771.26L859.22 771.26Z" fill="#E69F00"/>
<path d="M866.22 817.51L873.23 829.64L859.22 829.64Z" fill="#E69F00"/>
<path d="M896.35 613.18L903.35 625.31L889.35 625.31Z" fill="#E69F00"/>
<path d="M896.35 671.56L903.35 683.69L889.35 683.69Z" fill="#E69F00"/>
<path d="M896.35 741.61L903.35 753.74L889.35 753.74Z" fill="#E69F00"/>
<path d="M896.35 788.32L903.35 800.45L889.35 800.45Z" fill="#E69F00"/>
<path d="M896.35 799.99L903.35 812.12L889.35 812.12Z" fill="#E69F00"/>
<path d="M896.35 870.05L903.35 882.18L889.35 882.18Z" fill="#E69F00"/>
<path d="M926.48 729.94L933.48 742.07L919.47 742.07Z" fill="#E69F00"/>
<path d="M926.48 782.48L933.48 794.61L919.47 794.61Z" fill="#E69F00"/>
<path d="M926.48 811.67L933.48 823.80L919.47 823.80Z" fill="#E69F00"/>
<path d="M926.48 823.34L933.48 835.47L919.47 835.47Z" fill="#E69F00"/>
<path d="M956.61 671.56L963.61 683.69L949.60 683.69Z" fill="#E69F00"/>
<path d="M956.61 764.96L963.61 777.09L949.60 777.09Z" fill="#E69F00"/>
<path d="M956.61 770.80L963.61 782.93L949.60 782.93Z" fill="#E69F00"/>
<path d="M956.61 835.02L963.61 847.15L949.60 847.15Z" fill="#E69F00"/>
<path d="M956.61 870.05L963.61 882.18L949.60 882.18Z" fill="#E69F00"/>
<path d="M986.73 718.26L993.74 730.39L979.73 730.39Z" fill="#E69F00"/>
<path d="M986.73 759.13L993.74 771.26L979.73 771.26Z" fill="#E69F00"/>
<path d="M986.73 776.64L993.74 788.77L979.73 788.77Z" fill="#E69F00"/>
<path d="M986.73 782.48L993.74 794.61L979.73 794.61Z" fill="#E69F00"/>
<path d="M1016.86 729.94L1023.87 742.07L1009.86 742.07Z" fill="#E69F00"/>
<path d="M1016.86 864.21L1023.87 876.34L1009.86 876.34Z" fill="#E69F00"/>
<path d="M1046.99 753.29L1053.99 765.42L1039.99 765.42Z" fill="#E69F00"/>
<path d="M1046.99 846.70L1053.99 858.83L1039.99 858.83Z" fill="#E69F00"/>
<path d="M1077.12 601.50L1084.12 613.63L1070.11 613.63Z" fill="#E69F00"/>
<path d="M1077.12 636.53L1084.12 648.66L1070.11 648.66Z" fill="#E69F00"/>
<path d="M1077.12 694.91L1084.12 707.04L1070.11 707.04Z" fill="#E69F00"/>
<path d="M1077.12 718.26L1084.12 730.39L1070.11 730.39Z" fill="#E69F00"/>
<path d="M1107.25 753.29L1114.25 765.42L1100.24 765.42Z" fill="#E69F00"/>
<path d="M1107.25 846.70L1114.25 858.83L1100.24 858.83Z" fill="#E69F00"/>
<path d="M1137.37 683.23L1144.38 695.36L1130.37 695.36Z" fill="#E69F00"/>
<path d="M1137.37 694.91L1144.38 707.04L1130.37 707.04Z" fill="#E69F00"/>
<path d="M1197.63 578.15L1204.63 590.28L1190.63 590.28Z" fill="#E69F00"/>
<path d="M1197.63 589.82L1204.63 601.95L1190.63 601.95Z" fill="#E69F00"/>
<path d="M1227.76 718.26L1234.76 730.39L1220.75 730.39Z" fill="#E69F00"/>
<path d="M1257.89 706.58L1264.89 718.71L1250.88 718.71Z" fill="#E69F00"/>
<path d="M1348.27 519.77L1355.27 531.90L1341.27 531.90Z" fill="#E69F00"/>
<path d="M1348.27 683.23L1355.27 695.36L1341.27 695.36Z" fill="#E69F00"/>
<path d="M1348.27 718.26L1355.27 730.39L1341.27 730.39Z" fill="#E69F00"/>
<path d="M1408.53 636.53L1415.53 648.66L1401.52 648.66Z" fill="#E69F00"/>
</g>
<path d="M203.41 980.63L225.91 972.43L248.41 964.23L270.91 956.03L293.41 947.82L315.91 939.61L338.41 931.40L360.91 923.18L383.41 914.96L405.91 906.74L428.41 898.51L450.91 890.28L473.41 882.05L495.91 873.80L518.42 865.56L540.92 857.30L563.42 849.04L585.92 840.77L608.42 832.50L630.92 824.22L653.42 815.92L675.92 807.62L698.42 799.31L720.92 790.98L743.42 782.64L765.92 774.29L788.42 765.93L810.92 757.55L833.42 749.15L855.93 740.73L878.43 732.29L900.93 723.84L923.43 715.36L945.93 706.86L968.43 698.33L990.93 689.78L1013.43 681.20L1035.93 672.60L1058.43 663.97L1080.93 655.31L1103.43 646.62L1125.93 637.91L1148.43 629.17L1170.93 620.40L1193.43 611.60L1215.94 602.79L1238.44 593.94L1260.94 585.08L1283.44 576.19L1305.94 567.29L1328.44 558.36L1350.94 549.42L1373.44 540.46L1395.94 531.49L1418.44 522.50L1440.94 513.50L1463.44 504.49L1485.94 495.47L1508.44 486.43L1530.94 477.39L1553.45 468.34L1575.95 459.28L1598.45 450.21L1620.95 441.14L1643.45 432.06L1665.95 422.97L1688.45 413.88L1710.95 404.79L1733.45 395.68L1755.95 386.58L1778.45 377.47L1800.95 368.36L1823.45 359.24L1845.95 350.12L1868.45 340.99L1890.96 331.87L1913.46 322.74L1935.96 313.61L1958.46 304.47L1980.96 295.34L1980.96 341.65L1958.46 349.84L1935.96 358.04L1913.46 366.24L1890.96 374.44L1868.45 382.64L1845.95 390.85L1823.45 399.06L1800.95 407.27L1778.45 415.49L1755.95 423.71L1733.45 431.94L1710.95 440.17L1688.45 448.40L1665.95 456.64L1643.45 464.88L1620.95 473.13L1598.45 481.39L1575.95 489.65L1553.45 497.92L1530.94 506.20L1508.44 514.49L1485.94 522.79L1463.44 531.10L1440.94 539.41L1418.44 547.74L1395.94 556.09L1373.44 564.44L1350.94 572.82L1328.44 581.21L1305.94 589.61L1283.44 598.04L1260.94 606.48L1238.44 614.95L1215.94 623.44L1193.43 631.95L1170.93 640.48L1148.43 649.05L1125.93 657.64L1103.43 666.25L1080.93 674.90L1058.43 683.57L1035.93 692.27L1013.43 700.99L990.93 709.75L968.43 718.52L945.93 727.33L923.43 736.16L900.93 745.01L878.43 753.88L855.93 762.78L833.42 771.69L810.92 780.62L788.42 789.57L765.92 798.54L743.42 807.52L720.92 816.51L698.42 825.51L675.92 834.53L653.42 843.56L630.92 852.60L608.42 861.64L585.92 870.70L563.42 879.76L540.92 888.83L518.42 897.91L495.91 906.99L473.41 916.08L450.91 925.17L428.41 934.27L405.91 943.37L383.41 952.48L360.91 961.59L338.41 970.71L315.91 979.83L293.41 988.95L270.91 998.07L248.41 1007.20L225.91 1016.33L203.41 1025.46Z" fill="#999999" fill-opacity="0.4"/>
<path d="M203.41 1003.05L225.91 994.38L248.41 985.71L270.91 977.05L293.41 968.38L315.91 959.72L338.41 951.05L360.91 942.39L383.41 933.72L405.91 925.06L428.41 916.39L450.91 907.73L473.41 899.06L495.91 890.40L518.42 881.73L540.92 873.07L563.42 864.40L585.92 855.74L608.42 847.07L630.92 838.41L653.42 829.74L675.92 821.08L698.42 812.41L720.92 803.75L743.42 795.08L765.92 786.41L788.42 777.75L810.92 769.08L833.42 760.42L855.93 751.75L878.43 743.09L900.93 734.42L923.43 725.76L945.93 717.09L968.43 708.43L990.93 699.76L1013.43 691.10L1035.93 682.43L1058.43 673.77L1080.93 665.10L1103.43 656.44L1125.93 647.77L1148.43 639.11L1170.93 630.44L1193.43 621.78L1215.94 613.11L1238.44 604.45L1260.94 595.78L1283.44 587.11L1305.94 578.45L1328.44 569.78L1350.94 561.12L1373.44 552.45L1395.94 543.79L1418.44 535.12L1440.94 526.46L1463.44 517.79L1485.94 509.13L1508.44 500.46L1530.94 491.80L1553.45 483.13L1575.95 474.47L1598.45 465.80L1620.95 457.14L1643.45 448.47L1665.95 439.81L1688.45 431.14L1710.95 422.48L1733.45 413.81L1755.95 405.15L1778.45 396.48L1800.95 387.81L1823.45 379.15L1845.95 370.48L1868.45 361.82L1890.96 353.15L1913.46 344.49L1935.96 335.82L1958.46 327.16L1980.96 318.49" fill="none" stroke="#3A62FF" stroke-width="5.69"/>
<rect x="114.53" y="135.25" width="1955.32" height="932.75" fill="none" stroke="#333333" stroke-width="2.85"/>
</g>
<line x1="143.15" x2="143.15" y1="1068.0" y2="1075.33" stroke="#333333" stroke-width="2.85"/>
<line x1="444.43" x2="444.43" y1="1068.0" y2="1075.33" stroke="#333333" stroke-width="2.85"/>
<line x1="745.71" x2="745.71" y1="1068.0" y2="1075.33" stroke="#333333" stroke-width="2.85"/>
<line x1="1046.99" x2="1046.99" y1="1068.0" y2="1075.33" stroke="#333333" stroke-width="2.85"/>
<line x1="1348.27" x2="1348.27" y1="1068.0" y2="1075.33" stroke="#333333" stroke-width="2.85"/>
<line x1="1649.55" x2="1649.55" y1="1068.0" y2="1075.33" stroke="#333333" stroke-width="2.85"/>
<line x1="1950.83" x2="1950.83" y1="1068.0" y2="1075.33" stroke="#333333" stroke-width="2.85"/>
<line y1="1064.95" y2="1064.95" x1="107.20" x2="114.53" stroke="#333333" stroke-width="2.85"/>
<line y1="831.43" y2="831.43" x1="107.20" x2="114.53" stroke="#333333" stroke-width="2.85"/>
<line y1="597.91" y2="597.91" x1="107.20" x2="114.53" stroke="#333333" stroke-width="2.85"/>
<line y1="364.39" y2="364.39" x1="107.20" x2="114.53" stroke="#333333" stroke-width="2.85"/>
<text x="143.15" y="1098.1" font-family="Liberation Sans, sans-serif" font-size="23.47" fill="#4D4D4D" text-anchor="middle">170</text>
<text x="444.43" y="1098.1" font-family="Liberation Sans, sans-serif" font-size="23.47" fill="#4D4D4D" text-anchor="middle">180</text>
<text x="745.71" y="1098.1" font-family="Liberation Sans, sans-serif" font-size="23.47" fill="#4D4D4D" text-anchor="middle">190</text>
<text x="1046.99" y="1098.1" font-family="Liberation Sans, sans-serif" font-size="23.47" fill="#4D4D4D" text-anchor="middle">200</text>
<text x="1348.27" y="1098.1" font-family="Liberation Sans, sans-serif" font-size="23.47" fill="#4D4D4D" text-anchor="middle">210</text>
<text x="1649.55" y="1098.1" font-family="Liberation Sans, sans-serif" font-size="23.47" fill="#4D4D4D" text-anchor="middle">220</text>
<text x="1950.83" y="1098.1" font-family="Liberation Sans, sans-serif" font-size="23.47" fill="#4D4D4D" text-anchor="middle">230</text>
<text x="100.9" y="1074.0" font-family="Liberation Sans, sans-serif" font-size="23.47" fill="#4D4D4D" text-anchor="end">2500</text>
<text x="100.9" y="840.0" font-family="Liberation Sans, sans-serif" font-size="23.47" fill="#4D4D4D" text-anchor="end">3500</text>
<text x="100.9" y="607.0" font-family="Liberation Sans, sans-serif" font-size="23.47" fill="#4D4D4D" text-anchor="end">4500</text>
<text x="100.9" y="373.0" font-family="Liberation Sans, sans-serif" font-size="23.47" fill="#4D4D4D" text-anchor="end">5500</text>
<text x="1092.1" y="1131.6" font-family="Liberation Sans, sans-serif" font-size="29.33" fill="#000" text-anchor="middle">Longueur de la nageoire (mm)</text>
<text transform="translate(35.6 601.9) rotate(-90)" font-family="Liberation Sans, sans-serif" font-size="29.33" fill="#000" text-anchor="middle">Masse (g)</text>
<text x="113.8" y="39.9" font-family="Liberation Sans, sans-serif" font-size="35.2" fill="#000">Masse et taille de la nageoire</text>
<text x="114.2" y="82.8" font-family="Liberation Sans, sans-serif" font-size="29.33" fill="#000">Manchots d'Adelie, a</text>
<text x="114.6" y="115.1" font-family="Liberation Sans, sans-serif" font-size="29.33" fill="#000" xml:space="preserve" style="white-space:pre">    jugulaire et de Gentoo</text>
<text x="2113.8" y="535.8" font-family="Liberation Sans, sans-serif" font-size="29.33" fill="#000">Espece</text>
<circle cx="2136.65" cy="576.50" r="5.2" fill="#000000"/>
<path d="M2136.65 614.51L2143.65 626.64L2129.65 626.64Z" fill="#E69F00"/>
<rect x="2131.45" y="663.35" width="10.4" height="10.4" fill="#56B4E9"/>
<text x="2173.6" y="584.9" font-family="Liberation Sans, sans-serif" font-size="23.47" fill="#000">Adelie</text>
<text x="2173.6" y="630.9" font-family="Liberation Sans, sans-serif" font-size="23.47" fill="#000">Chinstrap</text>
<text x="2173.6" y="677.4" font-family="Liberation Sans, sans-serif" font-size="23.47" fill="#000">Gentoo</text>
</g>
</svg>
</body></html>
